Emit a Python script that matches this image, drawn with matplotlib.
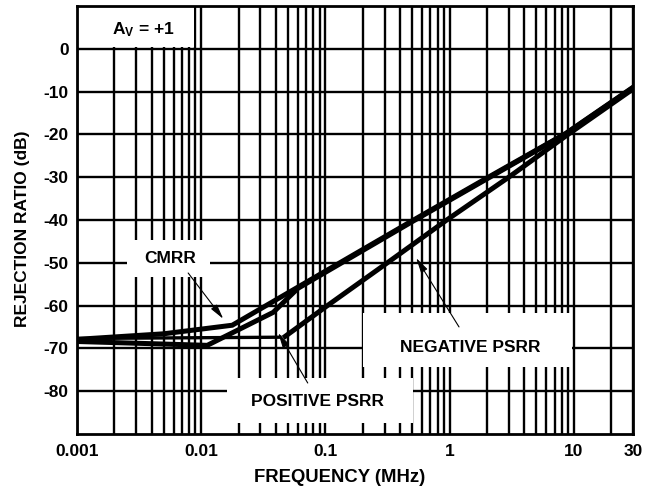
import numpy as np
import matplotlib
matplotlib.use('Agg')
import matplotlib.pyplot as plt
from matplotlib.ticker import LogLocator, FixedLocator, NullFormatter
from matplotlib.patches import Rectangle

plt.rcParams['font.family'] = 'Liberation Sans'
plt.rcParams['font.weight'] = 'bold'
plt.rcParams['mathtext.fontset'] = 'custom'
plt.rcParams['mathtext.bf'] = 'Liberation Sans:bold'
plt.rcParams['mathtext.rm'] = 'Liberation Sans:bold'

# data (frequency in MHz, rejection in dB)
cmrr_f = [0.001, 0.005, 0.0178, 0.5, 2.0, 8.6, 30]
cmrr_db = [-67.9, -66.6, -64.6, -40.2, -30.2, -19.8, -9.0]

pos_f = [0.001, 0.0112, 0.038, 0.06, 0.5, 2.0, 8.6, 30]
pos_db = [-68.4, -69.3, -61.6, -56.0, -40.4, -30.4, -19.9, -9.1]

neg_flat_f = [0.001, 0.043]
neg_flat_db = [-67.7, -67.4]
neg_f = [0.0475, 0.104, 0.316, 0.95, 3.0, 9.0, 30]
neg_db = [-67.2, -60.0, -50.0, -40.0, -30.0, -20.0, -9.4]

xticks = [0.001, 0.01, 0.1, 1, 10, 30]
xticklabels = ['0.001', '0.01', '0.1', '1', '10', '30']
yticks = [0, -10, -20, -30, -40, -50, -60, -70, -80]

fs = 12.5

fig = plt.figure(figsize=(6.52, 4.92), dpi=100)
ax = fig.add_axes([0.118, 0.118, 0.853, 0.870])

ax.set_xscale('log')
ax.set_xlim(0.001, 30)
ax.set_ylim(-90, 10)

ax.xaxis.set_major_locator(FixedLocator(xticks))
ax.set_xticklabels(xticklabels)
ax.xaxis.set_minor_locator(LogLocator(base=10, subs=np.arange(2, 10)))
ax.xaxis.set_minor_formatter(NullFormatter())
ax.set_yticks(yticks)
ax.set_yticklabels([str(v) for v in yticks])
ax.tick_params(which='both', length=0, labelsize=fs)
ax.tick_params(axis='x', pad=7)
ax.tick_params(axis='y', pad=6)

ax.set_axisbelow(True)
ax.grid(which='major', color='black', lw=1.7)
ax.grid(which='minor', axis='x', color='black', lw=1.7)
for s in ax.spines.values():
    s.set_linewidth(2)

# white label boxes punched through the grid
boxes = [(0.0, 0.904, 0.210, 0.096),
         (0.090, 0.367, 0.149, 0.086),
         (0.270, 0.026, 0.334, 0.105),
         (0.514, 0.157, 0.376, 0.126)]
for bx, by, bw, bh in boxes:
    ax.add_patch(Rectangle((bx, by), bw, bh, transform=ax.transAxes,
                           facecolor='white', edgecolor='none', zorder=1))

ax.plot(cmrr_f, cmrr_db, color='black', lw=3.6, zorder=3, solid_joinstyle='miter')
ax.plot(pos_f, pos_db, color='black', lw=3.6, zorder=3, solid_joinstyle='miter')
ax.plot(neg_flat_f, neg_flat_db, color='black', lw=2.4, zorder=3)
ax.plot(neg_f, neg_db, color='black', lw=3.6, zorder=3)

ax.text(0.12, 0.944, r'$\mathbf{A_V}$ = +1', transform=ax.transAxes,
        ha='center', va='center', fontsize=fs, zorder=4)

arrow = dict(arrowstyle='-|>,head_length=0.9,head_width=0.22', lw=0.8,
             color='black', shrinkA=0, shrinkB=0)
ax.annotate('', xy=(0.263, 0.269), xytext=(0.200, 0.376),
            xycoords='axes fraction', arrowprops=arrow, zorder=4)
ax.annotate('', xy=(0.362, 0.236), xytext=(0.415, 0.119),
            xycoords='axes fraction', arrowprops=arrow, zorder=4)
ax.annotate('', xy=(0.610, 0.411), xytext=(0.687, 0.250),
            xycoords='axes fraction', arrowprops=arrow, zorder=4)

ax.text(0.167, 0.411, 'CMRR', transform=ax.transAxes, ha='center',
        va='center', fontsize=fs, zorder=4)
ax.text(0.432, 0.075, 'POSITIVE PSRR', transform=ax.transAxes, ha='center',
        va='center', fontsize=fs, zorder=4)
ax.text(0.707, 0.203, 'NEGATIVE PSRR', transform=ax.transAxes, ha='center',
        va='center', fontsize=fs, zorder=4)

ax.set_xlabel('FREQUENCY (MHz)', fontsize=13.3, fontweight='bold')
ax.xaxis.set_label_coords(0.473, -0.083)
ax.set_ylabel('REJECTION RATIO (dB)', fontsize=12.5, fontweight='bold')
ax.yaxis.set_label_coords(-0.085, 0.479)

fig.savefig('out.png', dpi=100)
